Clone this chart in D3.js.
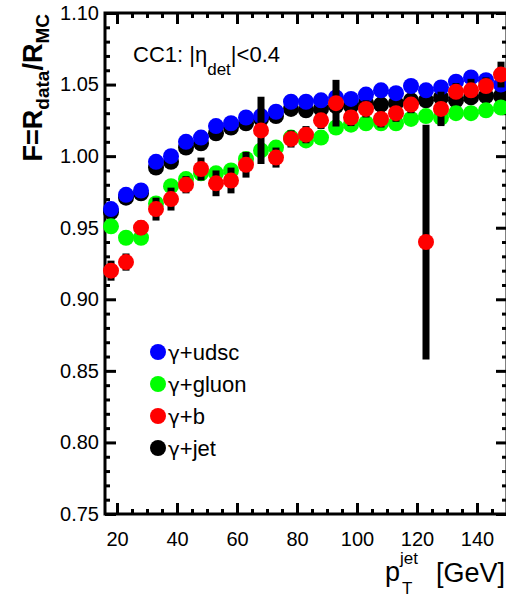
<!DOCTYPE html>
<html><head><meta charset="utf-8">
<script src="https://cdn.jsdelivr.net/npm/d3@7"></script>
<style>
html,body{margin:0;padding:0;background:#fff;}
svg{display:block;font-family:"Liberation Sans",Arial,Helvetica,sans-serif;}
</style></head>
<body>
<svg id="c" width="506" height="597"></svg>
<script>
// ---- data ----
const pT = [18,23,28,33,38,43,48,53,58,63,68,73,78,83,88,93,98,103,108,113,118,123,128,133,138,143,148];
const udsc  = [0.963,0.973,0.976,0.996,1.000,1.010,1.013,1.021,1.023,1.027,1.028,1.031,1.038,1.038,1.039,1.041,1.040,1.043,1.046,1.044,1.049,1.046,1.048,1.052,1.055,1.053,1.050];
const gluon = [0.951,0.943,0.943,0.967,0.979,0.984,0.988,0.988,0.990,0.998,1.004,1.006,1.013,1.011,1.013,1.020,1.022,1.023,1.023,1.023,1.026,1.028,1.027,1.030,1.030,1.032,1.034];
const bq    = [0.920,0.926,0.950,0.963,0.970,0.980,0.991,0.981,0.983,0.994,1.018,0.999,1.012,1.015,1.025,1.037,1.027,1.033,1.026,1.030,1.036,0.940,1.033,1.045,1.046,1.049,1.057];
const bqErr = [0.007,0.006,0.005,0.008,0.008,0.006,0.008,0.009,0.009,0.009,0.0235,0.007,0.006,0.006,0.006,0.0163,0.006,0.006,0.006,0.006,0.006,0.082,0.012,0.006,0.008,0.006,0.009];
const jet   = [0.961,0.971,0.974,0.992,0.996,1.006,1.009,1.016,1.020,1.023,1.026,1.028,1.033,1.032,1.033,1.035,1.035,1.037,1.036,1.037,1.039,1.039,1.041,1.039,1.041,1.042,1.042];
const xMajor = [20,40,60,80,100,120,140];
const xMinor = [20,25,30,35,40,45,50,55,60,65,70,75,80,85,90,95,100,105,110,115,120,125,130,135,140,145];
const yMajor = [0.75,0.80,0.85,0.90,0.95,1.00,1.05,1.10];
const yMinor = [0.76,0.77,0.78,0.79,0.81,0.82,0.83,0.84,0.86,0.87,0.88,0.89,0.91,0.92,0.93,0.94,0.96,0.97,0.98,0.99,1.01,1.02,1.03,1.04,1.06,1.07,1.08,1.09];
const legendLabels = ["+udsc","+gluon","+b","+jet"];
const colors = ["#0000ff","#00ff00","#ff0000","#000000"];

// ---- layout ----
const L=105, R=507, T=13, B=514;
const svg = d3.select("#c");
const x = d3.scaleLinear().domain([16,150]).range([L,R]);
const y = d3.scaleLinear().domain([0.75,1.10]).range([B,T]);
const MAJ=11, MIN=5, TW=3;

function styleAxis(g){
  g.select(".domain").remove();
  g.selectAll(".tick line").attr("stroke","#000").attr("stroke-width",TW);
  g.selectAll(".tick text").attr("fill","#000").attr("font-size",20).attr("font-family","Liberation Sans, Arial, sans-serif");
}
// bottom
svg.append("g").attr("transform",`translate(0,${B})`)
  .call(d3.axisBottom(x).tickValues(xMajor).tickSize(-MAJ).tickPadding(18).tickFormat(d3.format("d"))).call(styleAxis);
svg.append("g").attr("transform",`translate(0,${B})`)
  .call(d3.axisBottom(x).tickValues(xMinor).tickSize(-MIN).tickFormat("")).call(styleAxis);
// top
svg.append("g").attr("transform",`translate(0,${T})`)
  .call(d3.axisTop(x).tickValues(xMajor).tickSize(-MAJ).tickFormat("")).call(styleAxis);
svg.append("g").attr("transform",`translate(0,${T})`)
  .call(d3.axisTop(x).tickValues(xMinor).tickSize(-MIN).tickFormat("")).call(styleAxis);
// left
svg.append("g").attr("transform",`translate(${L},0)`)
  .call(d3.axisLeft(y).tickValues(yMajor).tickSize(-MAJ).tickPadding(6).tickFormat(d3.format(".2f"))).call(styleAxis);
svg.append("g").attr("transform",`translate(${L},0)`)
  .call(d3.axisLeft(y).tickValues(yMinor).tickSize(-MIN).tickFormat("")).call(styleAxis);
// right
svg.append("g").attr("transform",`translate(${R},0)`)
  .call(d3.axisRight(y).tickValues(yMajor).tickSize(-MAJ).tickFormat("")).call(styleAxis);
svg.append("g").attr("transform",`translate(${R},0)`)
  .call(d3.axisRight(y).tickValues(yMinor).tickSize(-MIN).tickFormat("")).call(styleAxis);

// frame
svg.append("rect").attr("x",L).attr("y",T).attr("width",R-L).attr("height",B-T)
  .attr("fill","none").attr("stroke","#000").attr("stroke-width",3);

// data
const plot = svg.append("g");
const RAD = 8;
function drawPts(vals,color){
  plot.append("g").selectAll("circle").data(vals).join("circle")
    .attr("cx",(d,i)=>x(pT[i])).attr("cy",d=>y(d)).attr("r",RAD).attr("fill",color);
}
drawPts(jet,colors[3]);
drawPts(udsc,colors[0]);
drawPts(gluon,colors[1]);
plot.append("g").selectAll("line").data(bq).join("line")
  .attr("x1",(d,i)=>x(pT[i])).attr("x2",(d,i)=>x(pT[i]))
  .attr("y1",(d,i)=>y(d+bqErr[i])).attr("y2",(d,i)=>y(d-bqErr[i]))
  .attr("stroke","#000").attr("stroke-width",7);
drawPts(bq,colors[2]);

// label
const lab = svg.append("text").attr("x",133).attr("y",62).attr("font-size",22).attr("fill","#000");
lab.append("tspan").text("CC1: |η");
lab.append("tspan").attr("font-size",17).attr("dy",13).text("det");
lab.append("tspan").attr("dy",-13).text("|<0.4");

// legend
const leg = svg.append("g");
legendLabels.forEach((t,i)=>{
  const cy = 352 + i*32;
  leg.append("circle").attr("cx",158).attr("cy",cy).attr("r",8).attr("fill",colors[i]);
  const tx = leg.append("text").attr("x",168).attr("y",cy+8).attr("font-size",22).attr("fill","#000");
  tx.append("tspan").attr("font-family","DejaVu Sans, sans-serif").attr("font-size",20).text("γ");
  tx.append("tspan").text(t);
});

// y title
const yt = svg.append("text").attr("transform","translate(42,14) rotate(-90)")
  .attr("text-anchor","end").attr("font-size",27).attr("font-weight","bold").attr("fill","#000");
yt.append("tspan").text("F=R");
yt.append("tspan").attr("font-size",19).attr("dy",7).text("data");
yt.append("tspan").attr("dy",-7).text("/R");
yt.append("tspan").attr("font-size",19).attr("dy",7).text("MC");

// x title
svg.append("text").attr("x",385).attr("y",581).attr("font-size",27).attr("fill","#000").text("p");
svg.append("text").attr("x",400).attr("y",564).attr("font-size",17).attr("fill","#000").text("jet");
svg.append("text").attr("x",402).attr("y",594).attr("font-size",17).attr("fill","#000").text("T");
svg.append("text").attr("x",505).attr("y",582).attr("text-anchor","end").attr("font-size",27).attr("fill","#000").text("[GeV]");
</script>
</body></html>
